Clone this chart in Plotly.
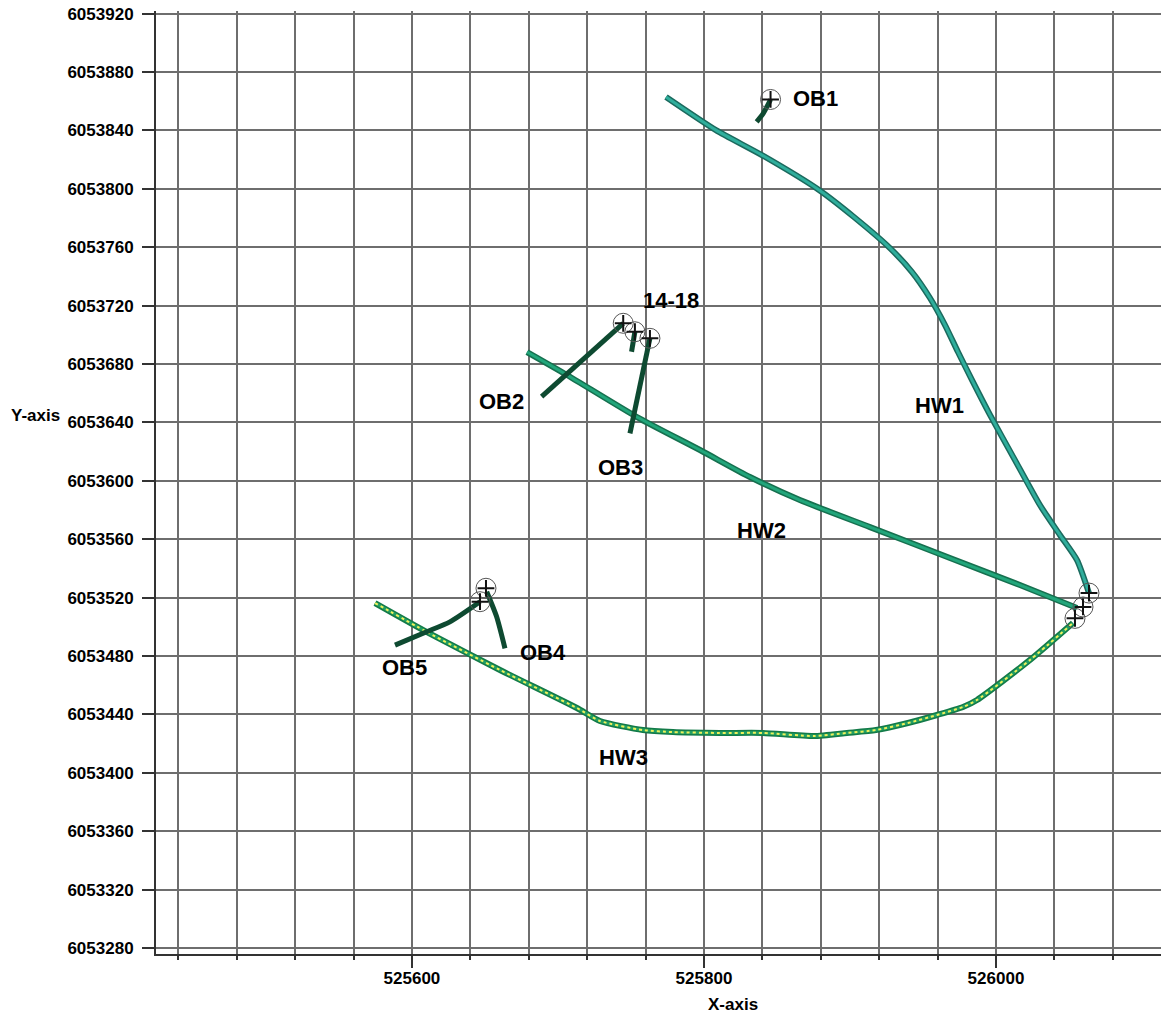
import plotly.graph_objects as go

# ---- data (easting / northing) ----
hw1_x = [525774.0, 525808.2, 525839.7, 525878.8, 525902.7, 525927.4, 525942.5, 525954.8,
         525965.1, 525974.0, 525983.6, 525996.0, 526013.0, 526030.1, 526043.8, 526055.5, 526063.7]
hw1_y = [6053862.9, 6053840.2, 6053823.1, 6053799.2, 6053780.7, 6053759.4, 6053743.0, 6053725.2,
         6053706.7, 6053688.2, 6053669.0, 6053645.0, 6053614.2, 6053583.4, 6053562.9, 6053545.7, 6053523.1]

hw2_x = [525678.8, 525706.2, 525754.1, 525797.3, 525831.5, 525865.7, 525913.7, 525968.5, 526016.4, 526055.5]
hw2_y = [6053688.2, 6053672.5, 6053643.7, 6053621.1, 6053602.6, 6053586.8, 6053568.3, 6053547.1, 6053528.6, 6053512.9]

hw3_x = [525574.7, 525610.3, 525660.3, 525713.0, 525728.8, 525758.2, 525778.8, 525810.9, 525840.4,
         525875.3, 525897.9, 525917.8, 525939.7, 525959.6, 525977.4, 525987.0, 526023.3, 526052.7]
hw3_y = [6053516.3, 6053496.4, 6053470.4, 6053444.4, 6053435.5, 6053429.3, 6053427.9, 6053427.3, 6053427.3,
         6053425.2, 6053427.3, 6053429.3, 6053434.1, 6053439.6, 6053445.1, 6053449.9, 6053477.3, 6053502.6]

ob1_x = [525845.6, 525844.3, 525840.6, 525836.1]
ob1_y = [6053861.2, 6053858.5, 6053851.7, 6053845.9]
ob2_x = [525688.8, 525744.7]
ob2_y = [6053657.6, 6053707.9]
ob3_x = [525763.0, 525749.3]
ob3_y = [6053697.6, 6053632.5]
mid_x = [525752.7, 525750.4]
mid_y = [6053702.1, 6053688.4]
ob4_x = [525651.2, 525658.0, 525663.7]
ob4_y = [6053524.0, 6053506.9, 6053485.3]
ob5_x = [525588.4, 525610.1, 525626.0, 525646.6]
ob5_y = [6053487.5, 6053496.6, 6053503.4, 6053517.2]

heads_x = [525845.6, 525744.7, 525752.7, 525763.0, 525650.7, 525646.6, 526063.7, 526059.6, 526054.1]
heads_y = [6053861.2, 6053707.9, 6053702.1, 6053697.6, 6053526.4, 6053517.2, 6053523.1, 6053513.6, 6053505.8]

label_text = ["OB1", "14-18", "OB2", "OB3", "HW1", "HW2", "HW3", "OB4", "OB5"]
label_x = [525876.7, 525777.4, 525661.6, 525742.5, 525961.6, 525839.7, 525745.2, 525689.7, 525595.2]
label_y = [6053862.2, 6053723.8, 6053654.0, 6053609.4, 6053651.9, 6053566.3, 6053410.8, 6053482.7, 6053471.8]

x_range = [525424.7, 526118.5]
y_range = [6053275.9, 6053921.8]

fig = go.Figure()

def add_line(x, y, color, width, dash="solid"):
    fig.add_trace(go.Scatter(x=x, y=y, mode="lines", hoverinfo="skip", showlegend=False,
                             line=dict(color=color, width=width, dash=dash, shape="spline", smoothing=0.6)))

# horizontal wells (outline + body)
add_line(hw1_x, hw1_y, "#1b6a5e", 6)
add_line(hw1_x, hw1_y, "#2fae9c", 3)
add_line(hw2_x, hw2_y, "#16704f", 6)
add_line(hw2_x, hw2_y, "#22a67b", 3)
add_line(hw3_x, hw3_y, "#137a48", 6)
add_line(hw3_x, hw3_y, "#22a064", 3)
add_line(hw3_x, hw3_y, "#f0f05a", 2, dash="dot")

# observation wells
for xs, ys in [(ob1_x, ob1_y), (ob2_x, ob2_y), (ob3_x, ob3_y), (mid_x, mid_y), (ob4_x, ob4_y), (ob5_x, ob5_y)]:
    add_line(xs, ys, "#0e4a31", 5)

# well heads
fig.add_trace(go.Scatter(x=heads_x, y=heads_y, mode="markers", hoverinfo="skip", showlegend=False,
                         marker=dict(symbol="circle-open", size=20, color="#555555", line=dict(width=1))))
fig.add_trace(go.Scatter(x=heads_x, y=heads_y, mode="markers", hoverinfo="skip", showlegend=False,
                         marker=dict(symbol="cross-thin-open", size=12, color="#111111", line=dict(width=2))))

for t, x, y in zip(label_text, label_x, label_y):
    fig.add_annotation(x=x, y=y, text=t, showarrow=False,
                       font=dict(family="Liberation Sans", size=22, color="black", weight="bold"))

fig.add_annotation(x=525820, xref="x", y=-0.054, yref="paper", text="X-axis", showarrow=False,
                   yanchor="middle", font=dict(family="Liberation Sans", size=17, color="black", weight="bold"))
fig.add_annotation(x=-0.1185, xref="paper", y=6053645, yref="y", text="Y-axis", showarrow=False,
                   xanchor="center", font=dict(family="Liberation Sans", size=17, color="black", weight="bold"))

tickfont = dict(family="Liberation Sans", size=17, color="black", weight="bold")
fig.update_xaxes(range=x_range, tickmode="linear", tick0=525600, dtick=200, ticks="outside", ticklen=12,
                 tickwidth=2, tickcolor="#333", tickformat="d", tickfont=tickfont, ticklabelstandoff=-4,
                 showgrid=True, gridcolor="#6e6e6e", gridwidth=2, automargin=False,
                 minor=dict(tick0=525600, dtick=40, ticks="outside", ticklen=4, tickwidth=2, tickcolor="#333",
                            showgrid=True, gridcolor="#6e6e6e", gridwidth=2),
                 showline=True, linecolor="#333", linewidth=2, zeroline=False, mirror=False)
fig.update_yaxes(range=y_range, tickmode="linear", tick0=6053280, dtick=40, ticks="outside", ticklen=12,
                 tickwidth=2, tickcolor="#333", tickformat="d", tickfont=tickfont, ticklabelstandoff=5,
                 ticklabeloverflow="allow",
                 showgrid=True, gridcolor="#6e6e6e", gridwidth=2, automargin=False,
                 showline=True, linecolor="#333", linewidth=2, zeroline=False)

fig.update_layout(width=1161, height=1009, margin=dict(l=148, r=0, t=3, b=63, autoexpand=False),
                  plot_bgcolor="white", paper_bgcolor="white", showlegend=False)

fig.write_html("out.html")
